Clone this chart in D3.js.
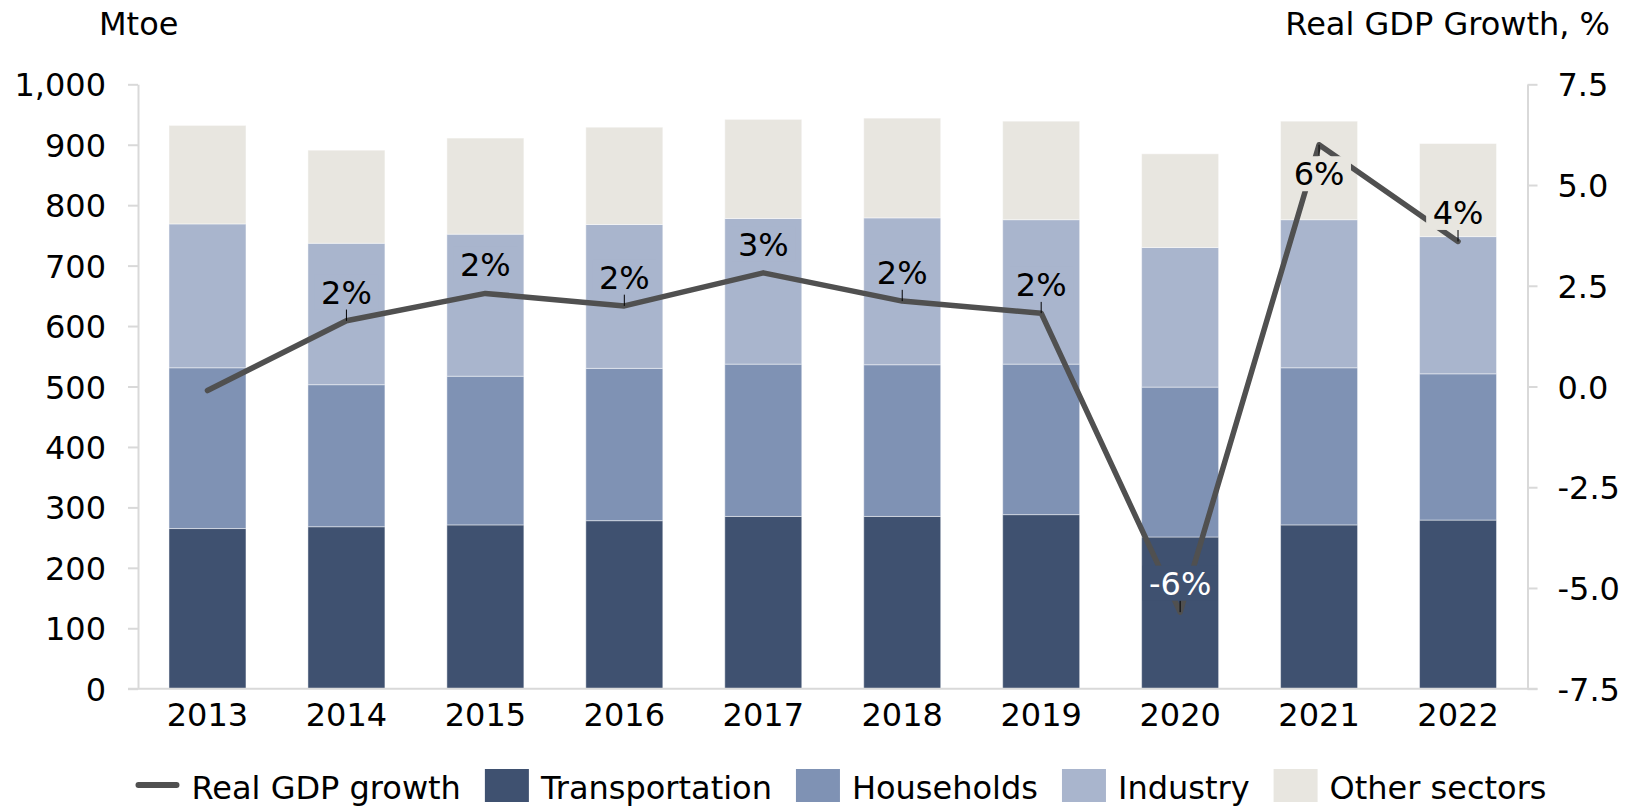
<!DOCTYPE html>
<html>
<head>
<meta charset="utf-8">
<script src="https://cdn.jsdelivr.net/npm/d3@7"></script>
<style>
  html, body { margin: 0; padding: 0; background: #ffffff; }
  svg { display: block; font-family: "DejaVu Sans", Verdana, sans-serif; }
</style>
</head>
<body>
<svg id="chart" width="1632" height="806"></svg>
<script>
// ---------- data ----------
const years = ["2013", "2014", "2015", "2016", "2017", "2018", "2019", "2020", "2021", "2022"];
const transportation = [265, 268, 271, 278, 285, 285, 288, 251, 271, 279];
const households     = [266, 235, 246, 252, 252, 251, 249, 248, 260, 242];
const industry       = [238, 234, 235, 238, 241, 243, 239, 231, 245, 227];
const otherSectors   = [163, 154, 159, 161, 164, 165, 163, 155, 163, 154];
const gdpGrowth      = [-0.1, 1.63, 2.31, 2.0, 2.82, 2.12, 1.82, -5.6, 6.0, 3.6];
const gdpLabels      = ["", "2%", "2%", "2%", "3%", "2%", "2%", "-6%", "6%", "4%"];
const labelBelow     = [false, false, false, false, false, false, false, false, true, false];
const showLeader     = [false, true, false, true, false, true, true, true, true, true];
const leftTicks  = [0, 100, 200, 300, 400, 500, 600, 700, 800, 900, 1000];
const rightTicks = [-7.5, -5.0, -2.5, 0.0, 2.5, 5.0, 7.5];
const seriesNames = ["Transportation", "Households", "Industry", "Other sectors"];
const lineName = "Real GDP growth";
const leftTitle = "Mtoe";
const rightTitle = "Real GDP Growth, %";

// ---------- styles ----------
const colors = {
  "Transportation": "#3f5170",
  "Households": "#7f92b4",
  "Industry": "#a9b5cd",
  "Other sectors": "#e8e6e0"
};
const lineColor = "#505050";
const axisColor = "#d9d9d9";
const fontSize = 32;

const svg = d3.select("#chart");

const plotLeft = 138, plotRight = 1527.5, plotTop = 84.3, plotBottom = 688.7;

const x = d3.scaleBand().domain(years).range([plotLeft, plotRight])
  .paddingInner(0.446).paddingOuter(0.223);
const yL = d3.scaleLinear().domain([0, 1000]).range([plotBottom, plotTop]);
const yR = d3.scaleLinear().domain([-7.5, 7.5]).range([plotBottom, plotTop]);

const table = years.map((y, i) => ({
  year: y,
  "Transportation": transportation[i],
  "Households": households[i],
  "Industry": industry[i],
  "Other sectors": otherSectors[i]
}));
const stacked = d3.stack().keys(seriesNames)(table);

// ---------- bars ----------
svg.append("g").selectAll("g").data(stacked).join("g")
  .attr("fill", d => colors[d.key])
  .selectAll("rect").data(d => d).join("rect")
  .attr("x", d => x(d.data.year))
  .attr("width", x.bandwidth())
  .attr("y", d => yL(d[1]))
  .attr("height", d => yL(d[0]) - yL(d[1]))
  .attr("stroke", "rgba(255,255,255,0.45)")
  .attr("stroke-width", 1);

// ---------- axes ----------
function styleAxis(g) {
  g.selectAll("text").attr("font-size", fontSize).attr("font-family", "DejaVu Sans, Verdana, sans-serif").attr("fill", "#000");
  g.selectAll("line").attr("stroke", axisColor).attr("stroke-width", 2);
  g.select(".domain").attr("stroke", axisColor).attr("stroke-width", 2);
}

svg.append("g")
  .attr("transform", `translate(${plotLeft},0)`)
  .call(d3.axisLeft(yL).tickValues(leftTicks).tickSize(10).tickSizeOuter(0).tickPadding(22).tickFormat(d3.format(",")))
  .call(styleAxis)
  .call(g => g.selectAll("text").attr("dy", "0.36em"));

svg.append("g")
  .attr("transform", `translate(${plotRight},0)`)
  .call(d3.axisRight(yR).tickValues(rightTicks).tickSize(10).tickSizeOuter(0).tickPadding(20).tickFormat(d => d.toFixed(1)))
  .call(styleAxis)
  .call(g => g.selectAll("text").attr("dy", "0.36em"));

svg.append("g")
  .attr("transform", `translate(0,${plotBottom})`)
  .call(d3.axisBottom(x).tickSize(0).tickPadding(15))
  .call(styleAxis)
  .call(g => g.select(".domain").remove());

svg.append("line")
  .attr("x1", plotLeft - 10).attr("x2", plotRight + 10)
  .attr("y1", plotBottom).attr("y2", plotBottom)
  .attr("stroke", axisColor).attr("stroke-width", 2);

// axis titles
svg.append("text").attr("x", 99).attr("y", 35)
  .attr("font-size", fontSize).attr("fill", "#000").text(leftTitle);
svg.append("text").attr("x", 1610).attr("y", 35).attr("text-anchor", "end")
  .attr("font-size", fontSize).attr("fill", "#000").text(rightTitle);

// ---------- line ----------
const cx = i => x(years[i]) + x.bandwidth() / 2;
const line = d3.line().x((d, i) => cx(i)).y(d => yR(d));
svg.append("path")
  .attr("d", line(gdpGrowth))
  .attr("fill", "none")
  .attr("stroke", lineColor)
  .attr("stroke-width", 5.5)
  .attr("stroke-linejoin", "round")
  .attr("stroke-linecap", "round");

// ---------- data labels ----------
const labelG = svg.append("g");
const offset = 29, boxH = 35;
gdpLabels.forEach((lab, i) => {
  if (!lab) return;
  const px = cx(i), py = yR(gdpGrowth[i]);
  const cy = labelBelow[i] ? py + offset : py - offset;
  // background = colour of the bar segment behind the label
  const v = yL.invert(cy);
  let bg = null;
  stacked.forEach(layer => {
    const d = layer[i];
    if (v >= d[0] && v < d[1]) bg = colors[layer.key];
  });
  const dark = bg && d3.hsl(bg).l < 0.4;
  const g = labelG.append("g");
  if (showLeader[i]) {
    const edge = labelBelow[i] ? cy - boxH / 2 : cy + boxH / 2;
    g.append("line").attr("x1", px).attr("x2", px)
      .attr("y1", edge).attr("y2", py)
      .attr("stroke", "#000").attr("stroke-width", 1);
  }
  const rect = g.append("rect");
  const t = g.append("text")
    .attr("x", px).attr("y", cy + fontSize * 0.365)
    .attr("text-anchor", "middle")
    .attr("font-size", fontSize)
    .attr("fill", dark ? "#ffffff" : "#000000")
    .text(lab);
  const w = t.node().getComputedTextLength() + 13;
  if (bg) {
    rect.attr("x", px - w / 2).attr("y", cy - boxH / 2)
      .attr("width", w).attr("height", boxH).attr("fill", bg);
  } else {
    rect.remove();
  }
});

// ---------- legend ----------
const legend = svg.append("g");
const legendY = 785;
const items = [{ name: lineName, type: "line" }].concat(seriesNames.map(n => ({ name: n, type: "rect" })));
let cursor = 0;
items.forEach(it => {
  const g = legend.append("g");
  if (it.type === "line") {
    g.append("line").attr("x1", cursor + 3).attr("x2", cursor + 41)
      .attr("y1", legendY).attr("y2", legendY)
      .attr("stroke", lineColor).attr("stroke-width", 6).attr("stroke-linecap", "round");
  } else {
    g.append("rect").attr("x", cursor).attr("y", legendY - 16)
      .attr("width", 44).attr("height", 33).attr("fill", colors[it.name]);
  }
  const t = g.append("text").attr("x", cursor + 56).attr("y", legendY + 14)
    .attr("font-size", fontSize).attr("fill", "#000").text(it.name);
  cursor += 56 + t.node().getComputedTextLength() + 24;
});
const totalW = cursor - 24;
legend.attr("transform", `translate(${(139 + 1543) / 2 - totalW / 2},0)`);
</script>
</body>
</html>
